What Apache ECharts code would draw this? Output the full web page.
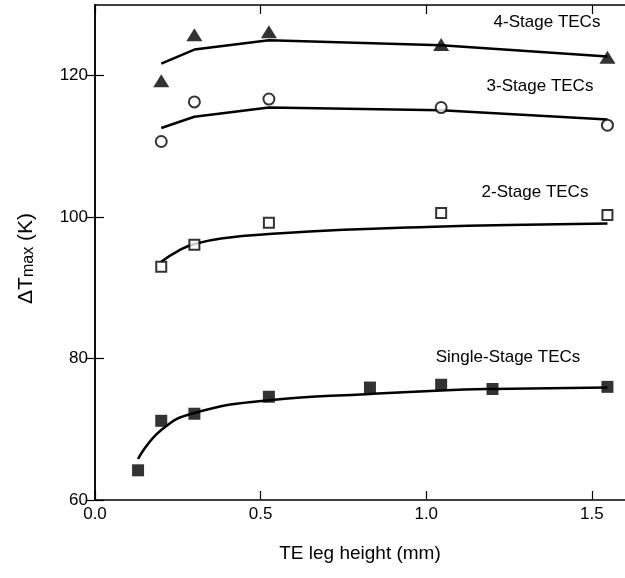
<!doctype html>
<html>
<head>
<meta charset="UTF-8">
<title>dTmax vs TE leg height</title>
<script src="https://cdn.jsdelivr.net/npm/echarts@6/dist/echarts.min.js"></script>
<style>
  body { margin: 0; background: #fff; }
  #main { width: 625px; height: 578px; }
</style>
</head>
<body>
<div id="main"></div>
<script>
// measured points (TE leg height mm, dTmax K)
var stage4Pts = [[0.2, 119.3], [0.3, 125.8], [0.525, 126.2], [1.045, 124.4], [1.547, 122.6]];
var stage4Fit = [[0.2, 121.7], [0.3, 123.7], [0.525, 125.0], [1.045, 124.3], [1.547, 122.7]];

var stage3Pts = [[0.2, 110.7], [0.3, 116.3], [0.525, 116.7], [1.045, 115.5], [1.547, 113.0]];
var stage3Fit = [[0.2, 112.6], [0.3, 114.2], [0.525, 115.5], [1.045, 115.1], [1.547, 113.8]];

var stage2Pts = [[0.2, 93.0], [0.3, 96.1], [0.525, 99.2], [1.045, 100.6], [1.547, 100.3]];
var stage2Fit = [[0.2, 93.7], [0.25, 95.2], [0.3, 96.2], [0.4, 97.1], [0.525, 97.6], [0.75, 98.2],
                 [1.0, 98.6], [1.25, 98.9], [1.547, 99.1]];

var stage1Pts = [[0.13, 64.2], [0.2, 71.2], [0.3, 72.2], [0.525, 74.6], [0.83, 75.9],
                 [1.045, 76.3], [1.2, 75.7], [1.547, 76.0]];
var stage1Fit = [[0.13, 65.8], [0.2, 69.9], [0.3, 72.3], [0.525, 74.1], [0.83, 75.0],
                 [1.045, 75.5], [1.2, 75.7], [1.547, 75.9]];

var xTicks = [0, 0.5, 1.0, 1.5];
var yTicks = [60, 80, 100, 120];

var labels = [
  {text: '4-Stage TECs', x: 547, y: 22},
  {text: '3-Stage TECs', x: 540, y: 86},
  {text: '2-Stage TECs', x: 535, y: 192},
  {text: 'Single-Stage TECs', x: 508, y: 357}
];

var font = 'Liberation Sans, Arial, sans-serif';
var chart = echarts.init(document.getElementById('main'));

function fitLine(data, smooth) {
  return {
    type: 'line', data: data, smooth: smooth, showSymbol: false, silent: true,
    lineStyle: {color: '#000', width: 2.5}, z: 2
  };
}
function points(data, symbol, size, filled) {
  return {
    type: 'scatter', data: data, symbol: symbol, symbolSize: size, z: 3,
    itemStyle: filled ? {color: '#000'} : {color: '#fff', borderColor: '#000', borderWidth: 2}
  };
}

function axisBase(ticks) {
  return {
    axisLine: {show: true, lineStyle: {color: '#000', width: 1.5}},
    axisTick: {show: true, inside: true, length: 9, customValues: ticks,
      lineStyle: {color: '#000', width: 1.2}},
    splitLine: {show: false}
  };
}

chart.setOption({
  animation: false,
  backgroundColor: '#fff',
  grid: {left: 95, right: -2, top: 5, bottom: 78},
  xAxis: [
    Object.assign({
      type: 'value', min: 0, max: 1.6, interval: 0.5,
      name: 'TE leg height (mm)', nameLocation: 'middle', nameGap: 44,
      nameTextStyle: {fontFamily: font, fontSize: 19, color: '#000'},
      axisLabel: {fontFamily: font, fontSize: 17, color: '#000', margin: 6, customValues: xTicks,
        formatter: function (v) { return v.toFixed(1); }}
    }, axisBase(xTicks)),
    Object.assign({
      type: 'value', min: 0, max: 1.6, interval: 0.5, position: 'top',
      axisLabel: {show: false}
    }, axisBase(xTicks))
  ],
  yAxis: [
    Object.assign({
      type: 'value', min: 60, max: 130, interval: 20,
      name: '{a|ΔT}{b|max}{a| (K)}', nameLocation: 'middle', nameGap: 58, nameRotate: 90,
      nameTextStyle: {padding: [0, 12, 0, 0], rich: {
        a: {fontFamily: font, fontSize: 21, color: '#000'},
        b: {fontFamily: font, fontSize: 16, color: '#000', padding: [5, 0, 0, 0]}
      }},
      axisLabel: {fontFamily: font, fontSize: 17, color: '#000', margin: 7, customValues: yTicks}
    }, axisBase(yTicks)),
    Object.assign({
      type: 'value', min: 60, max: 130, interval: 20, position: 'right',
      axisLabel: {show: false}
    }, axisBase(yTicks))
  ],
  graphic: labels.map(function (l) {
    return {type: 'text', x: l.x, y: l.y, style: {text: l.text, fontFamily: font, fontSize: 17,
      fill: '#000', textAlign: 'center', textVerticalAlign: 'middle'}};
  }),
  series: [
    fitLine(stage4Fit, false), points(stage4Pts, 'triangle', [16, 13], true),
    fitLine(stage3Fit, false), points(stage3Pts, 'circle', 11, false),
    fitLine(stage2Fit, true), points(stage2Pts, 'rect', 10, false),
    fitLine(stage1Fit, true), points(stage1Pts, 'rect', 12, true)
  ]
});
</script>
</body>
</html>
